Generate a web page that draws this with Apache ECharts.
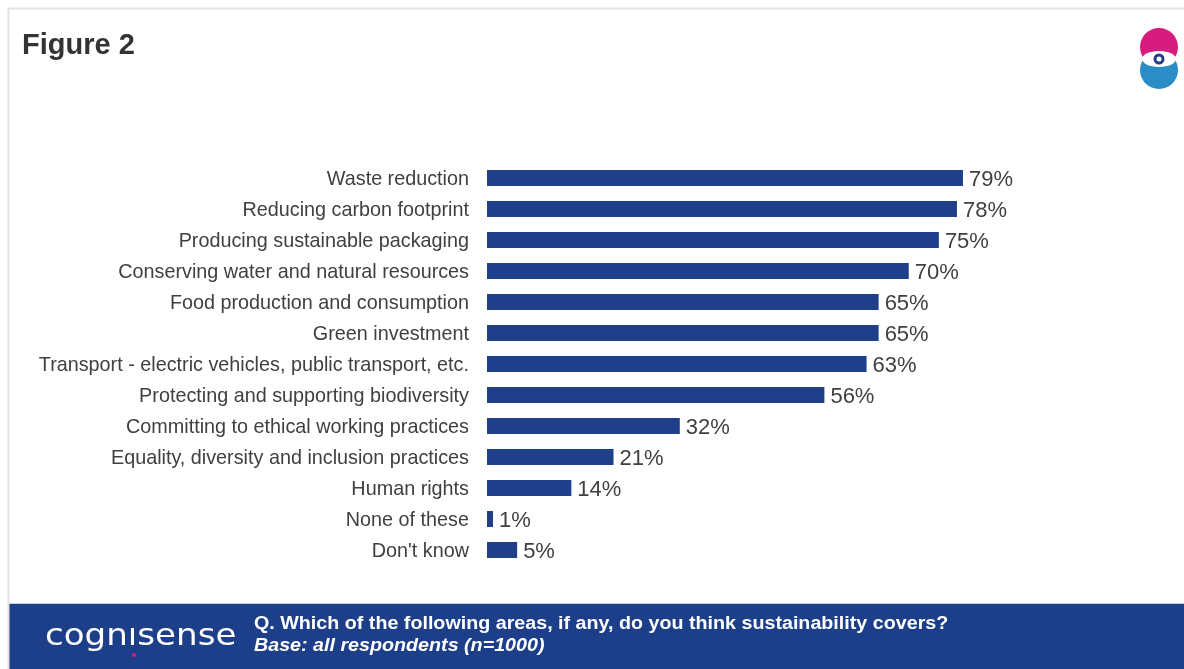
<!DOCTYPE html>
<html>
<head>
<meta charset="utf-8">
<script src="https://cdn.jsdelivr.net/npm/echarts@6/dist/echarts.min.js"></script>
<style>
html,body{margin:0;padding:0;background:#fff;}
#chart{width:1184px;height:669px;}
</style>
</head>
<body>
<div id="chart"></div>
<script>
const categories = [
  "Waste reduction",
  "Reducing carbon footprint",
  "Producing sustainable packaging",
  "Conserving water and natural resources",
  "Food production and consumption",
  "Green investment",
  "Transport - electric vehicles, public transport, etc.",
  "Protecting and supporting biodiversity",
  "Committing to ethical working practices",
  "Equality, diversity and inclusion practices",
  "Human rights",
  "None of these",
  "Don't know"
];
const values = [79, 78, 75, 70, 65, 65, 63, 56, 32, 21, 14, 1, 5];
const titleText = "Figure 2";
const questionText = "Q. Which of the following areas, if any, do you think sustainability covers?";
const baseText = "Base: all respondents (n=1000)";
const brandText = "cognısense";

const chart = echarts.init(document.getElementById('chart'), null, {renderer: 'canvas'});
const FONT = '"Liberation Sans", Arial, Helvetica, sans-serif';

chart.setOption({
  backgroundColor: '#ffffff',
  animation: false,
  grid: {left: 487, right: 94.5, top: 162.5, bottom: 103.5, containLabel: false, outerBoundsMode: 'none'},
  xAxis: {
    type: 'value', min: 0, max: 100, show: false
  },
  yAxis: {
    type: 'category', data: categories, inverse: true,
    axisLine: {show: false}, axisTick: {show: false}, splitLine: {show: false},
    axisLabel: {color: '#404040', fontSize: 19.8, fontFamily: FONT, margin: 18, verticalAlign: 'top', lineHeight: 4}
  },
  series: [{
    type: 'bar', data: values, barWidth: 16,
    itemStyle: {color: '#1F3F8A'},
    label: {show: true, position: 'right', distance: 6, offset: [0, 2], formatter: '{c}%', color: '#404040', fontSize: 22, fontFamily: FONT}
  }],
  graphic: [
    // frame lines
    {type: 'line', shape: {x1: 8, y1: 8.5, x2: 1184, y2: 8.5}, style: {stroke: '#e3e3e3', lineWidth: 2}, z: 10},
    {type: 'line', shape: {x1: 8.5, y1: 8, x2: 8.5, y2: 669}, style: {stroke: '#e3e3e3', lineWidth: 2}, z: 10},
    // title
    {type: 'text', left: 22, top: 31, style: {text: titleText, fill: '#333333', font: 'bold 29px ' + FONT}},
    // logo top right
    {type: 'circle', shape: {cx: 1159, cy: 47, r: 19}, style: {fill: '#D81B7F'}},
    {type: 'circle', shape: {cx: 1159, cy: 70, r: 19}, style: {fill: '#2A8DC5'}},
    {type: 'ellipse', shape: {cx: 1159, cy: 59, rx: 17, ry: 8}, style: {fill: '#ffffff'}},
    {type: 'circle', shape: {cx: 1159, cy: 59, r: 5.5}, style: {fill: '#1F3F8A'}},
    {type: 'circle', shape: {cx: 1159, cy: 59, r: 2.5}, style: {fill: '#ffffff'}},
    // footer band
    {type: 'rect', shape: {x: 9, y: 604, width: 1175, height: 65}, style: {fill: '#1D3F8A'}},
    {type: 'line', shape: {x1: 9, y1: 603.5, x2: 1184, y2: 603.5}, style: {stroke: '#c9cfdc', lineWidth: 1}},
    {type: 'text', x: 45, y: 637, scaleX: 1.1, style: {text: brandText, x: 0, y: 0, fill: '#ffffff', font: '31px "DejaVu Sans", ' + FONT, verticalAlign: 'middle'}},
    {type: 'circle', shape: {cx: 134, cy: 655, r: 2}, style: {fill: '#D81B7F'}},
    {type: 'text', x: 254, y: 615, scaleX: 1.125, style: {text: questionText, x: 0, y: 0, fill: '#ffffff', font: 'bold 17.5px ' + FONT, verticalAlign: 'top'}},
    {type: 'text', x: 254, y: 637, scaleX: 1.125, style: {text: baseText, x: 0, y: 0, fill: '#ffffff', font: 'italic bold 17.5px ' + FONT, verticalAlign: 'top'}}
  ]
});
</script>
</body>
</html>
